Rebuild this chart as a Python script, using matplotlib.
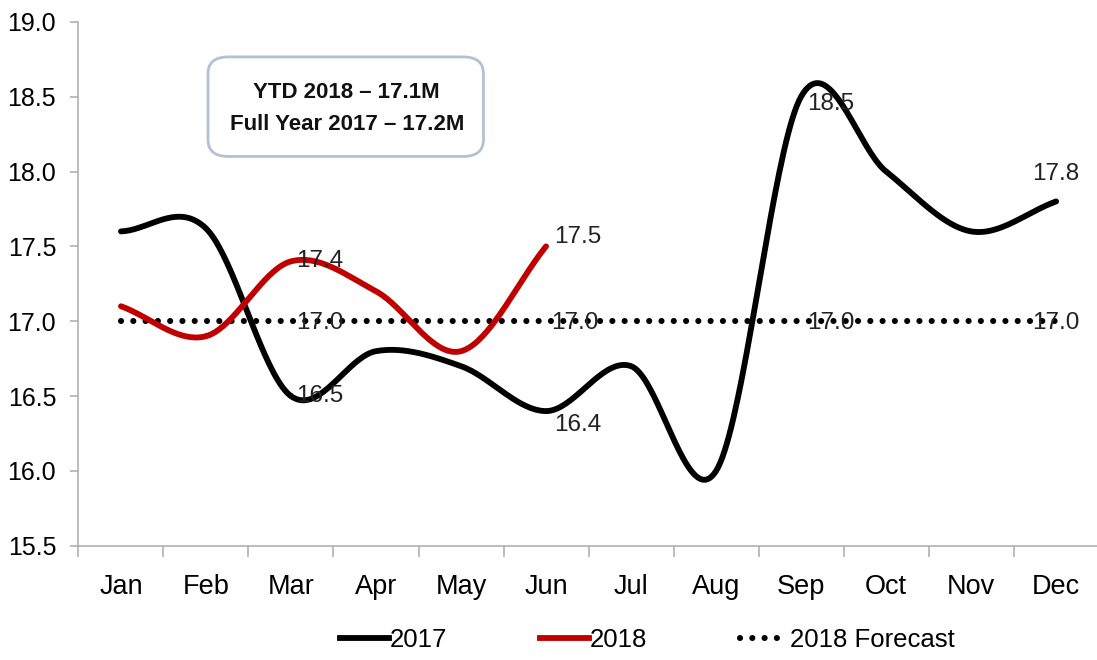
import numpy as np
import matplotlib
matplotlib.use("Agg")
import matplotlib.pyplot as plt
from matplotlib.patches import FancyBboxPatch

months = ["Jan", "Feb", "Mar", "Apr", "May", "Jun",
          "Jul", "Aug", "Sep", "Oct", "Nov", "Dec"]
vals_2017 = [17.6, 17.62, 16.5, 16.8, 16.7, 16.4, 16.7, 16.0, 18.5, 18.0, 17.6, 17.8]
vals_2018 = [17.1, 16.9, 17.4, 17.2, 16.8, 17.5]
forecast_2018 = [17.0] * 12

plt.rcParams['font.family'] = ['Liberation Sans', 'DejaVu Sans']


def smooth(y, n=40):
    """Catmull-Rom curve through the points (like Excel's smoothed line)."""
    y = np.asarray(y, dtype=float)
    x = np.arange(len(y), dtype=float)
    px = np.concatenate([[2 * x[0] - x[1]], x, [2 * x[-1] - x[-2]]])
    py = np.concatenate([[2 * y[0] - y[1]], y, [2 * y[-1] - y[-2]]])
    xs, ys = [], []
    t = np.linspace(0, 1, n)
    for i in range(1, len(px) - 2):
        for arr, out in ((px, xs), (py, ys)):
            p0, p1, p2, p3 = arr[i - 1:i + 3]
            c = 0.5 * ((2 * p1) + (-p0 + p2) * t + (2 * p0 - 5 * p1 + 4 * p2 - p3) * t ** 2
                       + (-p0 + 3 * p1 - 3 * p2 + p3) * t ** 3)
            out.extend(c)
    return np.array(xs), np.array(ys)


fig = plt.figure(figsize=(10.97, 6.6), dpi=100)
ax = fig.add_axes([0.0715, 0.173, 0.93, 0.794])

dot_style = (0, (0.01, 2.0))
idx = np.arange(len(months))
ax.plot(idx, forecast_2018, color='black', lw=4.4, linestyle=dot_style,
        dash_capstyle='round', zorder=2)
sx, sy = smooth(vals_2017)
ax.plot(sx, sy, color='black', lw=4.2, solid_capstyle='round', zorder=3)
sx, sy = smooth(vals_2018)
ax.plot(sx, sy, color='#C00000', lw=4.2, solid_capstyle='round', zorder=3)

# legend handles
h17, = ax.plot([], [], color='black', lw=4.2, label='2017')
h18, = ax.plot([], [], color='#C00000', lw=4.2, label='2018')
hf, = ax.plot([], [], color='black', lw=4.4, linestyle=dot_style,
              dash_capstyle='round', label='2018 Forecast')

lab_kw = dict(fontsize=17.5, color='#222222', zorder=4)
# data labels (offsets in points)
for i, dx, dy, ha, va in [(2, 4, 0, 'left', 'center'), (5, 6, -10, 'left', 'center'),
                          (8, 4, -5, 'left', 'center'), (11, 0, 12, 'center', 'bottom')]:
    ax.annotate(f"{vals_2017[i]:.1f}", (i, vals_2017[i]), xytext=(dx, dy),
                textcoords='offset points', ha=ha, va=va, **lab_kw)
for i, dx, dy in [(2, 4, 0), (5, 6, 7)]:
    ax.annotate(f"{vals_2018[i]:.1f}", (i, vals_2018[i]), xytext=(dx, dy),
                textcoords='offset points', ha='left', va='center', **lab_kw)
for i, dx, ha in [(2, 4, 'left'), (5, 4, 'left'), (8, 4, 'left'), (11, 0, 'center')]:
    ax.annotate(f"{forecast_2018[i]:.1f}", (i, forecast_2018[i]), xytext=(dx, -1),
                textcoords='offset points', ha=ha, va='center', **lab_kw)

ax.set_xlim(-0.5, 11.5)
ax.set_ylim(15.5, 19.0)
ax.set_yticks(np.arange(15.5, 19.01, 0.5))
ax.set_yticklabels([f"{v:.1f}" for v in np.arange(15.5, 19.01, 0.5)], fontsize=18)
ax.set_xticks(np.arange(-0.5, 12, 1))
ax.set_xticklabels([])
ax.set_xticks(idx, minor=True)
ax.set_xticklabels(months, minor=True, fontsize=19.5)
ax.tick_params(axis='x', which='major', length=8, color='#b0b0b0', width=1.2)
ax.tick_params(axis='x', which='minor', length=0, pad=20)
ax.tick_params(axis='y', length=6, color='#b0b0b0', width=1.2, pad=10)
for sp in ['top', 'right']:
    ax.spines[sp].set_visible(False)
for sp in ['left', 'bottom']:
    ax.spines[sp].set_color('#b0b0b0')
    ax.spines[sp].set_linewidth(1.2)

# info box
box = FancyBboxPatch((0.127, 0.743), 0.27, 0.19, transform=ax.transAxes,
                     boxstyle='round,pad=0,rounding_size=0.02', facecolor='white',
                     edgecolor='#b4c0d4', lw=2, mutation_aspect=1.6, zorder=5)
ax.add_patch(box)
ax.text(0.263, 0.835, "YTD 2018 \u2013 17.1M\nFull Year 2017 \u2013 17.2M",
        transform=ax.transAxes, ha='center', va='center', fontsize=16,
        fontweight='bold', linespacing=1.7, color='#111111', zorder=6)

fig.legend(handles=[h17, h18, hf], loc='center', bbox_to_anchor=(0.59, 0.03),
           ncol=3, frameon=False, fontsize=18.5, handlelength=1.9, handletextpad=0.05,
           columnspacing=3.6)

fig.savefig("out.png", dpi=100)
